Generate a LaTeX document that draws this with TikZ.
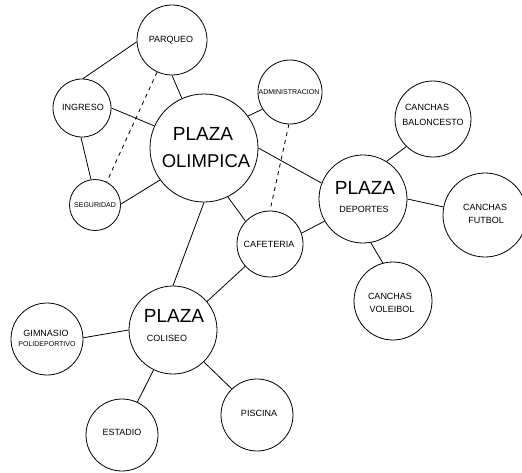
\documentclass[tikz,border=0pt]{standalone}
\usepackage{fontspec}
\setmainfont{Liberation Sans}
\begin{document}
\begin{tikzpicture}[x=1pt,y=-1pt, line width=0.8pt,
  place/.style={circle,draw,inner sep=0pt,minimum size=#1},
  lbl/.style={inner sep=0pt, font=\fontsize{9}{9}\selectfont},
  sml/.style={inner sep=0pt, font=\fontsize{7}{7}\selectfont},
  big/.style={inner sep=0pt, font=\fontsize{19}{19}\selectfont},
  dlink/.style={dash pattern=on 4pt off 4pt}]
\useasboundingbox[fill=white] (0,0) rectangle (522,472);
% circles
\node[place=70pt]  (parq)  at (172,40) {};
\node[place=58pt]  (ingr)  at (82,108) {};
\node[place=51pt]  (segu)  at (95,205) {};
\node[place=108pt] (olim)  at (204,148) {};
\node[place=64pt]  (admin) at (290,92) {};
\node[place=76pt]  (balo)  at (433,119) {};
\node[place=88pt]  (depo)  at (363,199) {};
\node[place=84pt]  (futb)  at (485,215) {};
\node[place=66pt]  (cafe)  at (270,244) {};
\node[place=78pt]  (vole)  at (393,301) {};
\node[place=88pt]  (coli)  at (173,330) {};
\node[place=72pt]  (gimn)  at (47,339) {};
\node[place=72pt]  (esta)  at (122,435) {};
\node[place=72pt]  (pisc)  at (257,415) {};
% labels
\node[lbl] (tparq) at (171,40) {PARQUEO};
\node[lbl] (tingr) at (83,107) {INGRESO};
\node[sml] (tsegu) at (95,205) {SEGURIDAD};
\node[big] (tolim1) at (203,134) {PLAZA};
\node[big,font=\fontsize{18.5}{18.5}\selectfont] (tolim2) at (206,161) {OLIMPICA};
\node[sml] (tadmin) at (289,92) {ADMINISTRACION};
\node[lbl] (tbalo1) at (427,107) {CANCHAS};
\node[lbl] (tbalo2) at (433,122) {BALONCESTO};
\node[big] (tdepo1) at (365,188) {PLAZA};
\node[lbl] (tdepo2) at (364,209) {DEPORTES};
\node[lbl] (tfutb1) at (485,207) {CANCHAS};
\node[lbl] (tfutb2) at (486,220) {FUTBOL};
\node[lbl] (tcafe) at (269,244) {CAFETERIA};
\node[lbl] (tvole1) at (390,296) {CANCHAS};
\node[lbl] (tvole2) at (392,309) {VOLEIBOL};
\node[big] (tcoli1) at (174,316) {PLAZA};
\node[lbl] (tcoli2) at (167,338) {COLISEO};
\node[lbl] (tgimn1) at (46,333) {GIMNASIO};
\node[sml] (tgimn2) at (47,344) {POLIDEPORTIVO};
\node[lbl] (testa) at (122,432) {ESTADIO};
\node[lbl] (tpisc) at (259,413) {PISCINA};
% connectors
\draw (parq.183) -- (ingr.88);
\draw (parq.270) -- (olim.114);
\draw (ingr.0) -- (olim.156);
\draw (ingr.268) -- (segu.99);
\draw (segu.2) -- (olim.216);
\draw[dlink] (parq.245) -- (segu.63);
\draw (olim.36) -- (admin.212);
\draw (olim.0) -- (depo.159);
\draw (olim.296) -- (cafe.137);
\draw (olim.270) -- (coli.90);
\draw[dlink] (admin.268) -- (cafe.90);
\draw (cafe.19) -- (depo.210);
\draw (cafe.222) -- (coli.40);
\draw (depo.58) -- (balo.226);
\draw (depo.0) -- (futb.169);
\draw (depo.280) -- (vole.105);
\draw (coli.180) -- (gimn.2);
\draw (coli.244) -- (esta.65);
\draw (coli.314) -- (pisc.134);
\end{tikzpicture}
\end{document}
